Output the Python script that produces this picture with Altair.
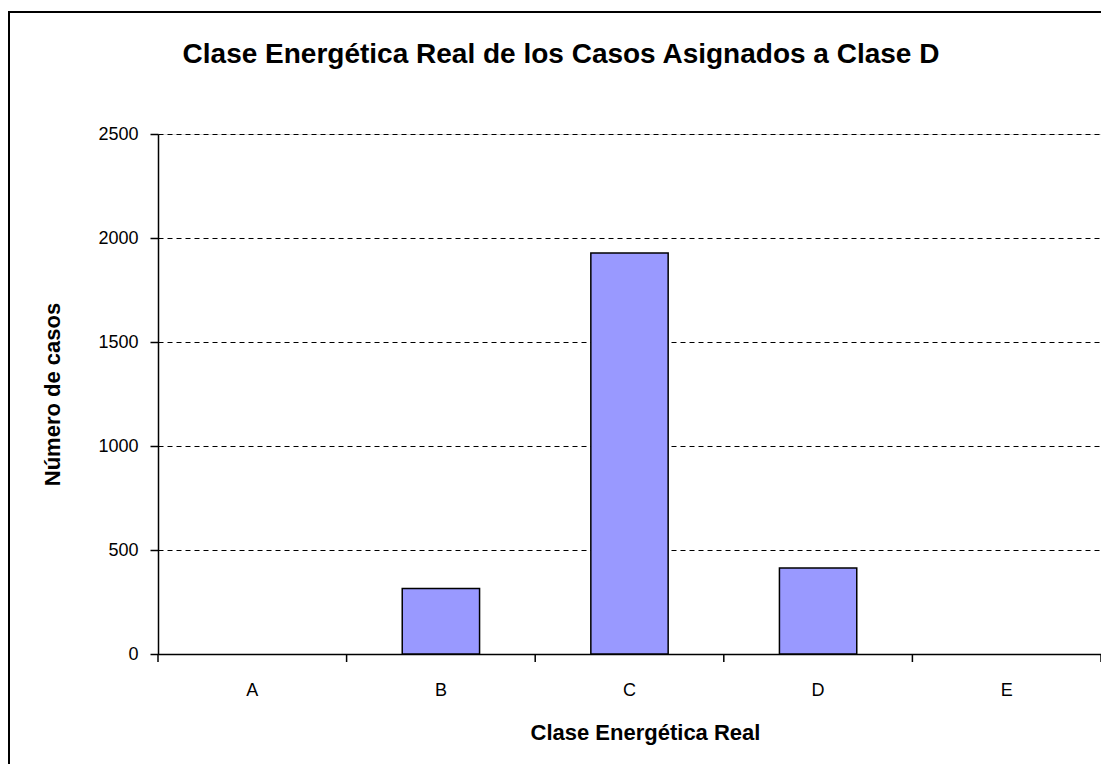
import altair as alt
import pandas as pd

categories = ["A", "B", "C", "D", "E"]
values = [0, 315, 1928, 413, 0]
title_text = "Clase Energética Real de los Casos Asignados a Clase D"

df = pd.DataFrame({"clase": categories, "casos": values})

W, H = 943, 520
STEP = W / len(categories)
FONT = "Liberation Sans"

base = alt.Chart(df)

xscale = alt.Scale(domain=categories, paddingInner=0.59, paddingOuter=0.295)

bars = base.mark_bar(color="#9999FF", stroke="black", strokeWidth=1.5).encode(
    x=alt.X("clase:N", scale=xscale,
            axis=alt.Axis(title="Clase Energética Real", labelAngle=0, ticks=False,
                          labelPadding=27, titlePadding=23, domainColor="black",
                          domainWidth=1.5, labelFontSize=18, titleFontSize=22,
                          labelFont=FONT, titleFont=FONT, titleFontWeight="bold",
                          labelColor="black", titleColor="black", titleX=487)),
    y=alt.Y("casos:Q", scale=alt.Scale(domain=[0, 2500]),
            axis=alt.Axis(title="Número de casos", values=[0, 500, 1000, 1500, 2000, 2500],
                          format="d",
                          grid=True, gridDash=[5, 4], gridColor="black", gridWidth=1,
                          tickSize=8, tickColor="black", tickWidth=1.5,
                          domainColor="black", domainWidth=1.5, labelPadding=12,
                          labelFontSize=18, titleFontSize=22, labelFont=FONT,
                          titleFont=FONT, titleFontWeight="bold", labelColor="black",
                          titleColor="black", titlePadding=33)),
).transform_filter(alt.datum.casos > 0)

xticks = base.mark_rule(color="black", strokeWidth=1.5, xOffset=-STEP / 2).encode(
    x=alt.X("clase:N", scale=xscale),
    y=alt.value(H), y2=alt.value(H + 8),
)
one = pd.DataFrame({"k": [0]})
last_tick = alt.Chart(one).mark_rule(color="black", strokeWidth=1.5).encode(
    x=alt.value(W), y=alt.value(H), y2=alt.value(H + 8),
)

frame_left = alt.Chart(one).mark_rule(color="black", strokeWidth=2).encode(
    x=alt.value(-149), y=alt.value(-122), y2=alt.value(H + 120),
)
frame_top = alt.Chart(one).mark_rule(color="black", strokeWidth=2).encode(
    x=alt.value(-150), x2=alt.value(W + 20), y=alt.value(-122),
)

title = alt.Chart(pd.DataFrame({"t": [title_text]})).mark_text(
    font=FONT, fontSize=28, fontWeight="bold", color="black",
    align="center", baseline="middle",
).encode(text="t:N", x=alt.value(403), y=alt.value(-79))

chart = alt.layer(bars, xticks, last_tick, frame_left, frame_top, title).properties(
    width=W, height=H,
    autosize=alt.AutoSizeParams(type="none"),
    padding={"left": 150, "top": 126, "right": 0, "bottom": 110},
).configure_view(
    stroke="#808080", strokeWidth=2
).configure(background="white")

chart.save("out.html", embed_options={"renderer": "svg", "actions": False})
